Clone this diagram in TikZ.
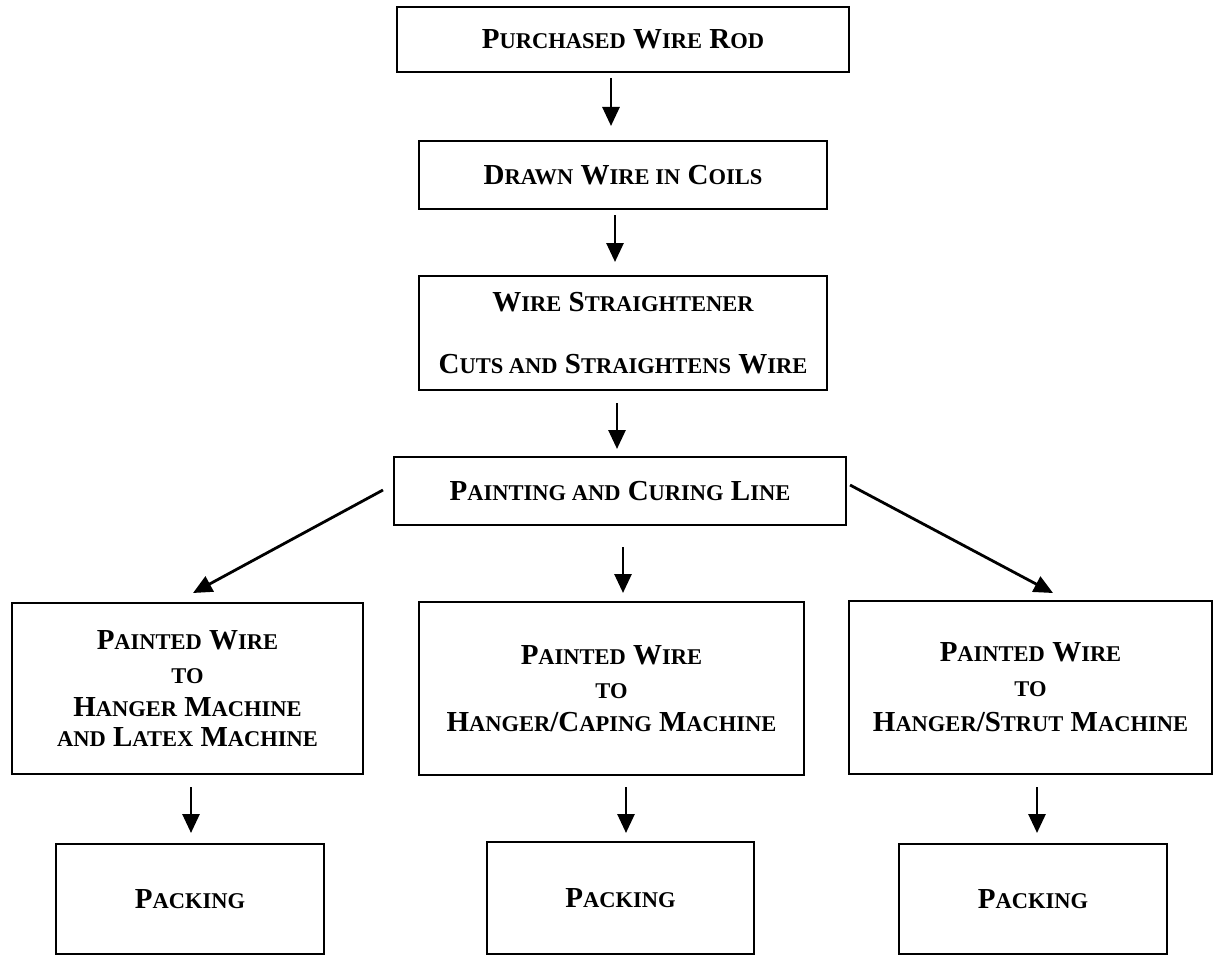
\documentclass[tikz,border=0pt]{standalone}
\usepackage{fontspec}
\setmainfont{Liberation Serif}
\usetikzlibrary{arrows.meta}
\newcommand\bigf{\fontsize{29}{30}\selectfont\bfseries}
\newcommand\sm[1]{{\fontsize{22.5}{30}\selectfont #1}}
\tikzset{
  box/.style={draw=black, line width=1.7pt, inner sep=0pt, align=center, font=\bigf},
  arr/.style={line width=2.8pt, -{Triangle[width=17pt,length=19pt]}},
}
\begin{document}
\begin{tikzpicture}[x=1pt,y=-1pt]
\useasboundingbox (0,0) rectangle (1214,955);
\node[box, minimum width=452pt, minimum height=65pt] (b1) at (623,39.5) {P\sm{URCHASED} W\sm{IRE} R\sm{OD}};
\node[box, minimum width=408pt, minimum height=68pt] (b2) at (623,175) {D\sm{RAWN} W\sm{IRE IN} C\sm{OILS}};
\node[box, minimum width=408pt, minimum height=114pt] (b3) at (623,333) {W\sm{IRE} S\sm{TRAIGHTENER}\\[32pt] C\sm{UTS AND} S\sm{TRAIGHTENS} W\sm{IRE}};
\node[box, minimum width=452pt, minimum height=68pt] (b4) at (620,491) {P\sm{AINTING AND} C\sm{URING} L\sm{INE}};
\node[box, minimum width=351pt, minimum height=171pt] (b5) at (187.5,688.5) {P\sm{AINTED} W\sm{IRE}\\[4pt] \sm{TO}\\[3pt] H\sm{ANGER} M\sm{ACHINE}\\ \sm{AND} L\sm{ATEX} M\sm{ACHINE}};
\node[box, minimum width=385pt, minimum height=173pt, text depth=0pt] (b6) at (611.5,688.5) {P\sm{AINTED} W\sm{IRE}\\[4pt] \sm{TO}\\[3pt] H\sm{ANGER}/C\sm{APING} M\sm{ACHINE}};
\node[box, minimum width=363pt, minimum height=173pt] (b7) at (1030.5,687.5) {P\sm{AINTED} W\sm{IRE}\\[5pt] \sm{TO}\\[5pt] H\sm{ANGER}/S\sm{TRUT} M\sm{ACHINE}};
\node[box, minimum width=268pt, minimum height=110pt] (p1) at (190,899) {P\sm{ACKING}};
\node[box, minimum width=267pt, minimum height=112pt] (p2) at (620.5,898) {P\sm{ACKING}};
\node[box, minimum width=268pt, minimum height=110pt] (p3) at (1033,899) {P\sm{ACKING}};
\coordinate (a1s) at (611,78);  \coordinate (a1e) at (611,126);
\coordinate (a2s) at (615,215); \coordinate (a2e) at (615,262);
\coordinate (a3s) at (617,403); \coordinate (a3e) at (617,449);
\coordinate (a4s) at (383,490); \coordinate (a4e) at (193,593);
\coordinate (a5s) at (623,547); \coordinate (a5e) at (623,593);
\coordinate (a6s) at (850,485); \coordinate (a6e) at (1053,593);
\coordinate (a7s) at (191,787); \coordinate (a7e) at (191,833);
\coordinate (a8s) at (626,787); \coordinate (a8e) at (626,833);
\coordinate (a9s) at (1037,787); \coordinate (a9e) at (1037,833);
\foreach \i in {1,...,9} {\draw[arr] (a\i s) -- (a\i e);}
\end{tikzpicture}
\end{document}
